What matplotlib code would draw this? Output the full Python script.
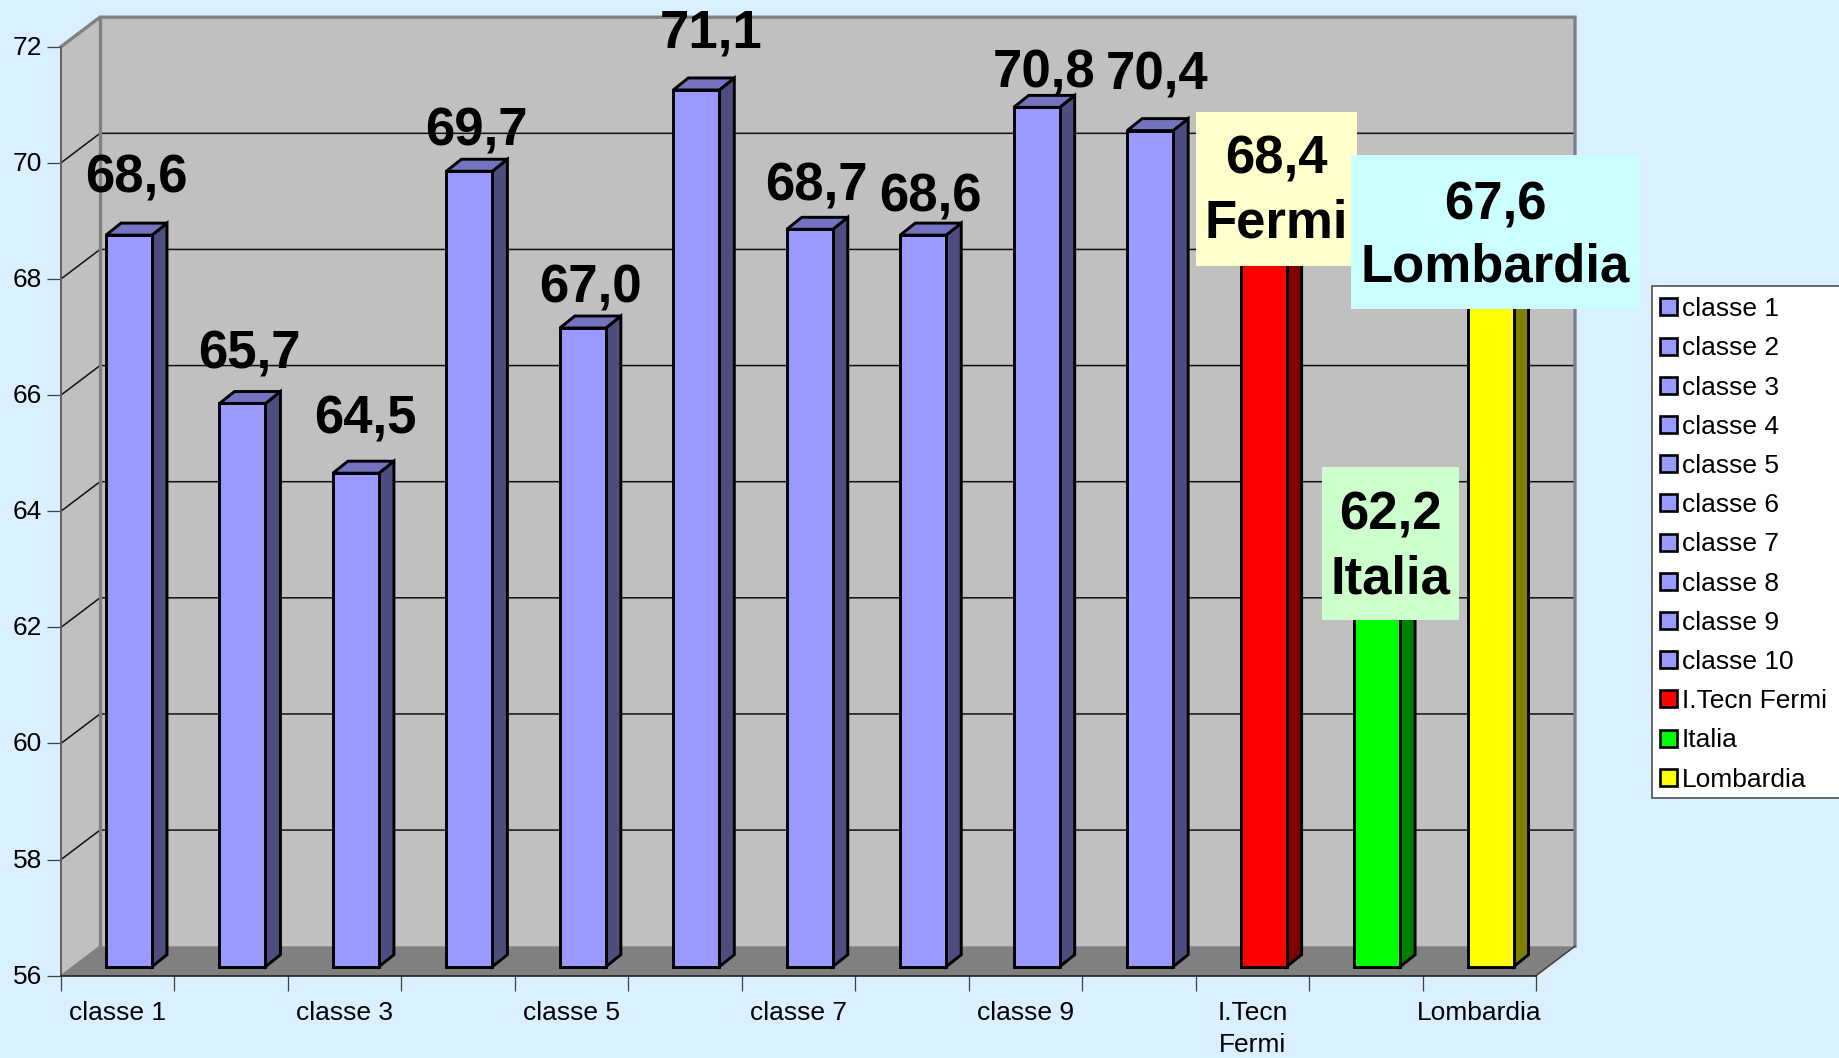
import matplotlib
matplotlib.use('Agg')
import matplotlib.pyplot as plt
from matplotlib.patches import Patch, Rectangle
from matplotlib.transforms import ScaledTranslation

plt.rcParams['font.family'] = ['Liberation Sans', 'DejaVu Sans']

names = ['classe 1', 'classe 2', 'classe 3', 'classe 4', 'classe 5', 'classe 6', 'classe 7',
         'classe 8', 'classe 9', 'classe 10', 'I.Tecn Fermi', 'Italia', 'Lombardia']
values = [68.6, 65.7, 64.5, 69.7, 67.0, 71.1, 68.7, 68.6, 70.8, 70.4, 68.4, 62.2, 67.6]
axis_labels = ['classe 1', '', 'classe 3', '', 'classe 5', '', 'classe 7', '', 'classe 9', '',
               'I.Tecn\nFermi', '', 'Lombardia']
y_ticks = [56, 58, 60, 62, 64, 66, 68, 70, 72]

face = ['#9999FF'] * 10 + ['#FF0000', '#00FF00', '#FFFF00']
side = ['#4D4D80'] * 10 + ['#800000', '#008000', '#808000']
top = ['#7373BF'] * 10 + ['#BF0000', '#00BF00', '#BFBF00']

# hand placed value labels, pixels right and down from the default spot
nudge_x = [0, 0, 3, 0, 1, 8, 0, 0, 0, 0]
nudge_y = [-1, 7, 2, 16, 16, -1, 13, 18, 22, 1]

W, H = 1839, 1058
BG = '#DAEFFF'
X0, X1, Y0, Y1 = 61, 1536, 975.7, 46.7
ymin, ymax = y_ticks[0], y_ticks[-1]
ncat = len(values)
px_x = (X1 - X0) / ncat
px_y = (Y0 - Y1) / (ymax - ymin)
PT = 72 / 100


def fx(x):
    return x / W


def fy(y):
    return 1 - y / H


fig = plt.figure(figsize=(W / 100, H / 100), dpi=100, facecolor=BG)
ax = fig.add_axes([fx(X0), fy(Y0), (X1 - X0) / W, (Y0 - Y1) / H])
ax.patch.set_visible(False)
ax.set_xlim(0, ncat)
ax.set_ylim(ymin, ymax)

# depth of the box, in data units
dx = 39 / px_x
dy = 29.5 / px_y

# walls and floor
ax.fill([0, dx, dx, 0], [ymin, ymin + dy, ymax + dy, ymax], color='#C0C0C0', lw=0, clip_on=False, zorder=1)
ax.fill([dx, ncat + dx, ncat + dx, dx], [ymin + dy, ymin + dy, ymax + dy, ymax + dy], color='#C0C0C0', lw=0,
        clip_on=False, zorder=1)
ax.fill([0, ncat, ncat + dx, dx], [ymin, ymin, ymin + dy, ymin + dy], color='#808080', lw=0, clip_on=False, zorder=2)

for v in y_ticks[1:-1]:
    ax.plot([0, dx, ncat + dx], [v, v + dy, v + dy], color='#101010', lw=1.1, clip_on=False, zorder=2)

# wall outlines
ax.plot([0, dx, ncat + dx, ncat + dx], [ymax, ymax + dy, ymax + dy, ymin + dy], color='#808080', lw=2.4,
        clip_on=False, zorder=3, solid_joinstyle='miter')
ax.plot([dx, dx], [ymin + dy, ymax + dy], color='#808080', lw=2.4, clip_on=False, zorder=3)
ax.plot([ncat, ncat + dx], [ymin, ymin + dy], color='#404040', lw=1.1, clip_on=False, zorder=3)
ax.plot([0, dx], [ymin, ymin + dy], color='#808080', lw=1.1, clip_on=False, zorder=3)

for name in ['top', 'right']:
    ax.spines[name].set_visible(False)
ax.spines['left'].set_color('#606060')
ax.spines['left'].set_linewidth(1.4)
ax.spines['bottom'].set_color('#101010')
ax.spines['bottom'].set_linewidth(1.1)
ax.spines['left'].set_zorder(4)
ax.spines['bottom'].set_zorder(4)

ax.set_yticks(y_ticks)
ax.tick_params(axis='y', length=10, width=0.9, color='#404040', pad=3.5, labelsize=19)
up = ScaledTranslation(0, 1.5 / 100, fig.dpi_scale_trans)
for lab in ax.get_yticklabels():
    lab.set_transform(lab.get_transform() + up)
ax.set_xticks(range(ncat + 1))
ax.set_xticklabels([])
ax.tick_params(axis='x', which='major', length=10.5, width=0.9, color='#404040')
ax.set_xticks([i + 0.5 for i in range(ncat)], axis_labels, minor=True)
ax.tick_params(axis='x', which='minor', length=0, pad=18, labelsize=19)
for lab in ax.get_xticklabels(minor=True):
    lab.set_linespacing(1.43)

# bars
bar_w = 46 / px_x
shift_x = 45 / px_x
shift_y = 9 / px_y
depth_x = 15 / px_x
depth_y = 12 / px_y
for i, v in enumerate(values):
    left = i + shift_x
    right = left + bar_w
    base = ymin + shift_y
    tip = v + shift_y
    ax.bar(left, tip - base, width=bar_w, bottom=base, align='edge', color=face[i], edgecolor='black',
           linewidth=2.1, clip_on=False, zorder=6)
    ax.fill([right, right + depth_x, right + depth_x, right],
            [base, base + depth_y, tip + depth_y, tip], facecolor=side[i], edgecolor='black', linewidth=2.1,
            clip_on=False, zorder=5)
    ax.fill([left, left + depth_x, right + depth_x, right],
            [tip, tip + depth_y, tip + depth_y, tip], facecolor=top[i], edgecolor='black', linewidth=2.1,
            clip_on=False, zorder=5)


def fmt(v):
    return f'{v:.1f}'.replace('.', ',')


# plain value labels
for i, v in enumerate(values[:10]):
    ax.annotate(fmt(v), (i + shift_x + bar_w / 2, v + shift_y),
                xytext=(5 + nudge_x[i] * PT, 30.2 - nudge_y[i] * PT), textcoords='offset points',
                ha='center', va='baseline', fontsize=38, fontweight='bold', color='black',
                annotation_clip=False, zorder=8)

# boxed labels: left, right, top, bottom of box, centre x, two baselines
boxes = [
    (10, 'Fermi', '#FFFFCC', 1196, 1357, 112, 266, 1276, 174, 237),
    (12, 'Lombardia', '#CCFFFF', 1351, 1640, 155, 309, 1495, 219, 282),
    (11, 'Italia', '#CCFFCC', 1322, 1459, 467, 620, 1390, 530, 594),
]
for idx, word, col, bx0, bx1, by0, by1, cx, base1, base2 in boxes:
    fig.add_artist(Rectangle((fx(bx0), fy(by1)), (bx1 - bx0) / W, (by1 - by0) / H, transform=fig.transFigure,
                             facecolor=col, edgecolor='none', zorder=5))
    fig.text(fx(cx), fy(base1), fmt(values[idx]), ha='center', va='baseline', fontsize=38,
             fontweight='bold', zorder=6)
    fig.text(fx(cx), fy(base2), word, ha='center', va='baseline', fontsize=38, fontweight='bold', zorder=6)

# legend, its frame runs off the right side of the page
fig.add_artist(Rectangle((fx(1652), fy(798)), 220 / W, (798 - 286) / H, transform=fig.transFigure,
                         facecolor='white', edgecolor='#404040', linewidth=1.1, zorder=4))
handles = [Patch(facecolor=face[i], edgecolor='black', linewidth=1.9, label=names[i]) for i in range(ncat)]
leg = fig.legend(handles=handles, loc='upper left', bbox_to_anchor=(fx(1651), fy(288)),
                 bbox_transform=fig.transFigure, borderaxespad=0, fontsize=19, frameon=False,
                 handlelength=0.62, handleheight=0.62, handletextpad=0.2, labelspacing=0.576, borderpad=0.35)
leg.set_zorder(5)

fig.savefig('out.png', dpi=100, facecolor=BG)
